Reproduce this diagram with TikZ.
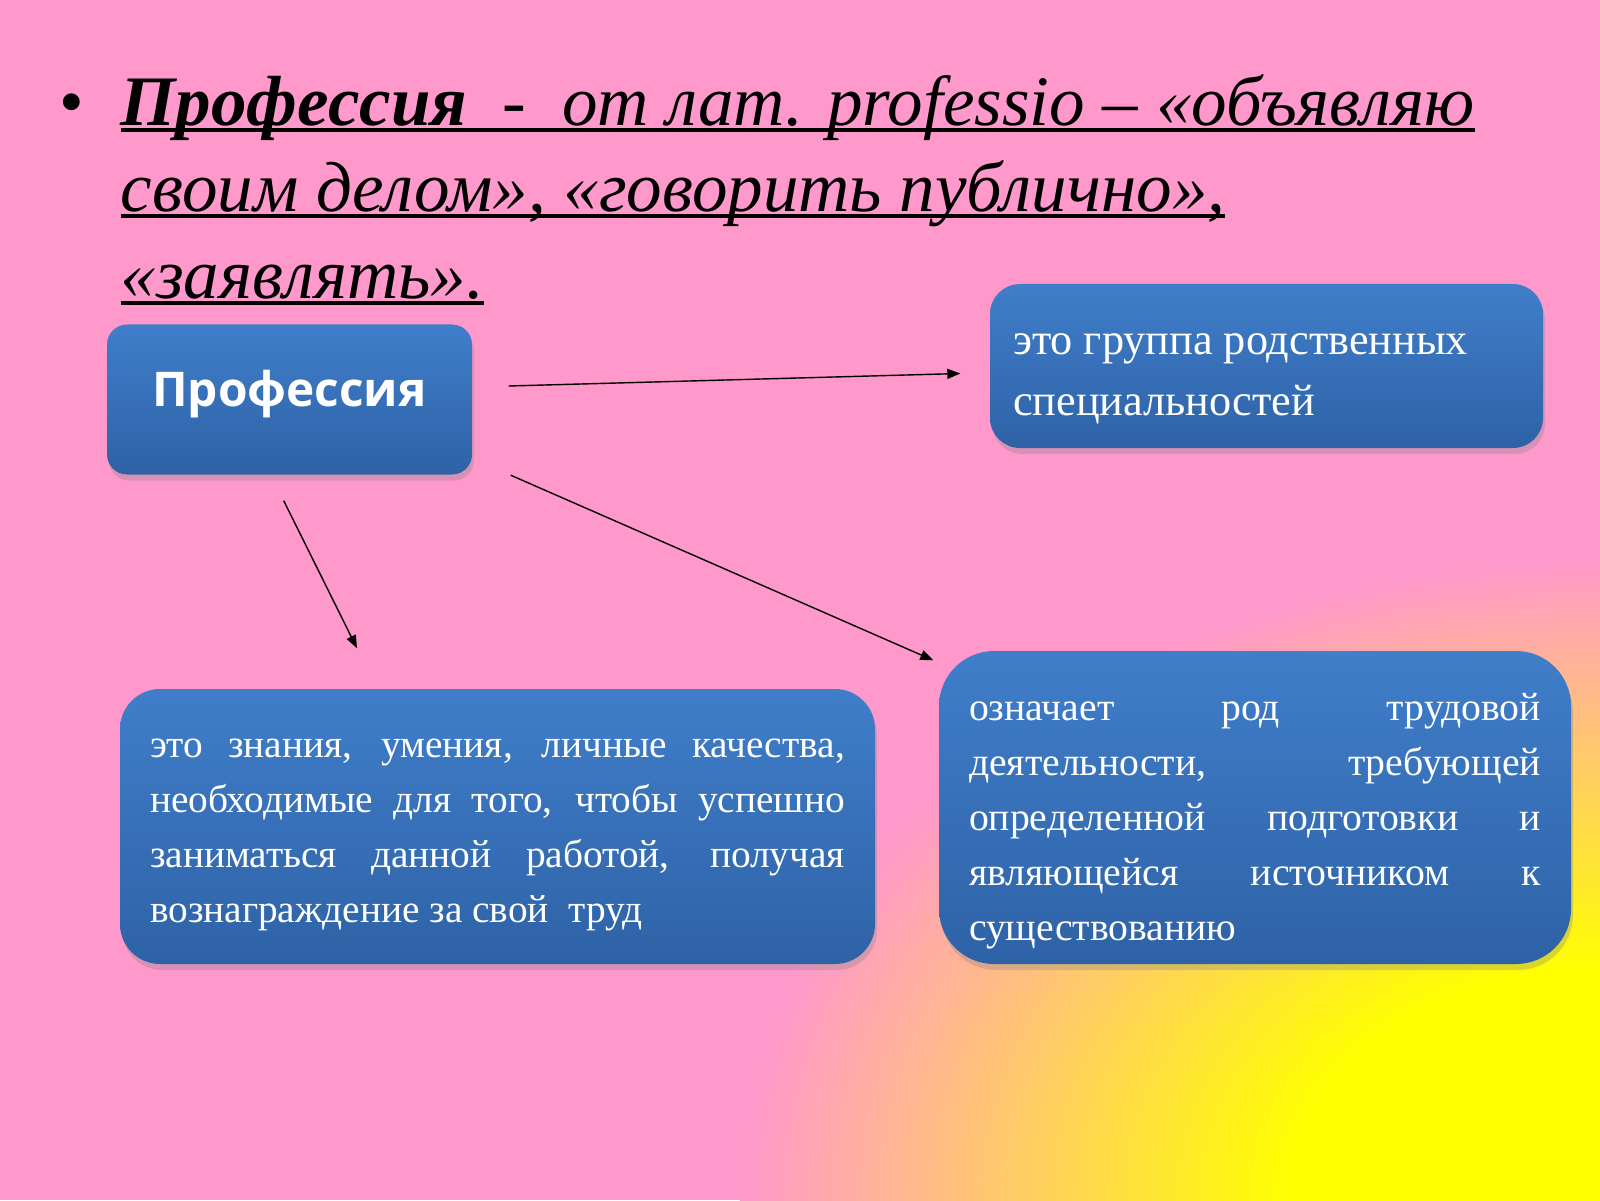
\documentclass[tikz,border=0pt]{standalone}
\usepackage{fontspec}
\setmainfont{Liberation Serif}
\newfontfamily\labelfont{Open Sans}
\usetikzlibrary{arrows.meta,shadows}

\definecolor{bgpink}{RGB}{255,153,204}
\definecolor{bgyellow}{RGB}{255,255,0}
\definecolor{boxtop}{RGB}{64,126,202}
\definecolor{boxbottom}{RGB}{46,98,166}

\pgfdeclareradialshading{cornerglow}{\pgfpointorigin}{color(0bp)=(bgyellow); color(9bp)=(bgyellow); color(25bp)=(bgpink); color(50bp)=(bgpink)}

\newsavebox{\ulbox}
\newcommand{\uln}[1]{\sbox{\ulbox}{#1}\rlap{\rule[-1.8pt]{\wd\ulbox}{1.1pt}}\usebox{\ulbox}}
\newcommand{\jline}[1]{\makebox[\linewidth][s]{#1}}
% text block of width #2, moved down by #1 inside its box
\newcommand{\boxpar}[3]{\raisebox{-#1}[\height][\depth]{\parbox{#2}{#3}}}

\tikzset{
  infobox/.style={rounded corners=#1, top color=boxtop, bottom color=boxbottom,
    text=white, inner ysep=0pt,
    drop shadow={opacity=0.3, shadow xshift=0.2mm, shadow yshift=-0.6mm}},
  titletext/.style={anchor=base west, inner sep=0pt, font=\fontsize{20.2}{24}\selectfont\itshape},
  boxtext/.style={font=\fontsize{#1}{15.65}\selectfont},
  arr/.style={-{Triangle[length=1.3mm,width=1mm]}, line width=0.4pt}
}

\begin{document}
\begin{tikzpicture}
    \useasboundingbox (0,0) rectangle (16,12);
    % background
    \fill[bgpink] (0,0) rectangle (16,12);
    \begin{scope}
        \clip (0,0) rectangle (16,12);
        \shade[shading=cornerglow] (16,0) ellipse [x radius=8.6, y radius=6.4];
    \end{scope}
    % heading
    \node[inner sep=0pt, font=\fontsize{20}{24}\selectfont] (dot) at (0.72,10.90) {•};
    \node[titletext] (line1) at (1.20,10.745) {\uln{\textbf{Профессия}\ \ -\ \ от лат. professio – «объявляю}};
    \node[titletext] (line2) at (1.20,9.88) {\uln{своим делом», «говорить публично»,}};
    \node[titletext] (line3) at (1.20,9.01) {\uln{«заявлять».}};
    % boxes
    \node[infobox=2mm, minimum width=3.65cm, minimum height=1.50cm, font=\labelfont\bfseries\fontsize{13.6}{16}\selectfont] (prof) at (2.895,8.005) {\raisebox{0.5mm}[\height][\depth]{Профессия}};
    \node[infobox=3mm, minimum width=5.53cm, minimum height=1.64cm, inner xsep=0.23cm, font=\fontsize{12.6}{17.4}\selectfont] (spec) at (12.665,8.34) {\boxpar{1.3mm}{5.07cm}{это группа родственных\\специальностей}};
    \node[infobox=4mm, minimum width=7.55cm, minimum height=2.75cm, inner xsep=0.30cm, boxtext=11.2] (skill) at (4.975,3.735) {\boxpar{0.8mm}{6.95cm}{\jline{это знания, умения, личные качества,}\\\jline{необходимые для того, чтобы успешно}\\\jline{заниматься данной работой, получая}\\вознаграждение за свой\ \ труд}};
    \node[infobox=5.5mm, minimum width=6.32cm, minimum height=3.13cm, inner xsep=0.30cm, boxtext=11.3] (kind) at (12.55,3.925) {\boxpar{1.4mm}{5.72cm}{\jline{означает род трудовой}\\\jline{деятельности, требующей}\\\jline{определенной подготовки и}\\\jline{являющейся источником к}\\существованию}};
    % arrows
    \draw[arr] ([shift={(0.36,0.135)}]prof.east) -- ([shift={(-0.29,-0.075)}]spec.west);
    \draw[arr] ([shift={(-0.058,-0.255)}]prof.south) -- ([shift={(-1.405,0.40)}]skill.north);
    \draw[arr] ([shift={(0.38,0)}]prof.south east) -- ([shift={(-0.05,-0.10)}]kind.north west);
\end{tikzpicture}
\end{document}
